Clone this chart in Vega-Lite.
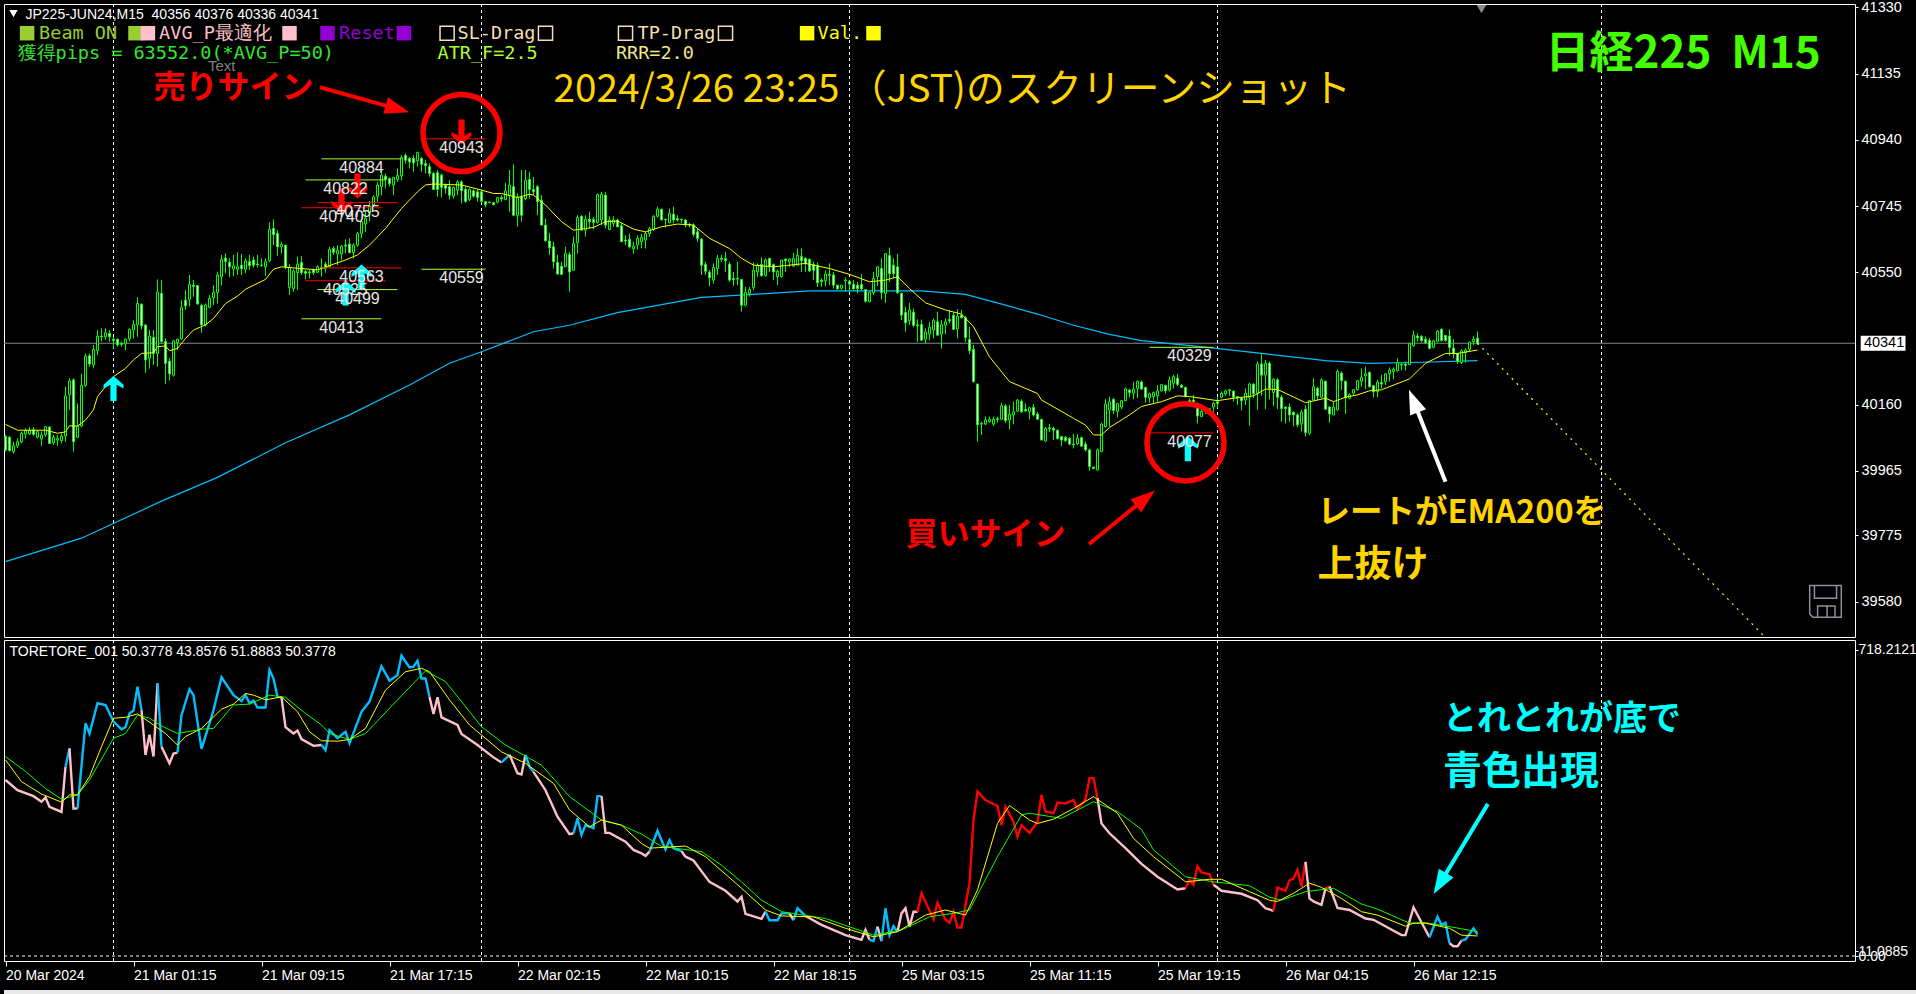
{"$schema":"https://vega.github.io/schema/vega-lite/v6.json","background":"#000000","padding":{"left":0,"top":-2,"right":0,"bottom":0},"spacing":0,"config":{"view":{"stroke":"#ffffff"},"legend":{"disable":true}},
"datasets":{
"candles":[
{"i":0,"o":40066,"h":40071,"l":40022,"c":40027},{"i":1,"o":40064,"h":40068,"l":40022,"c":40025},{"i":2,"o":40022,"h":40051,"l":40015,"c":40039},{"i":3,"o":40039,"h":40061,"l":40032,"c":40051},{"i":4,"o":40051,"h":40081,"l":40046,"c":40076},{"i":5,"o":40074,"h":40091,"l":40061,"c":40084},{"i":6,"o":40074,"h":40094,"l":40071,"c":40084},{"i":7,"o":40086,"h":40094,"l":40068,"c":40073},{"i":8,"o":40064,"h":40084,"l":40061,"c":40081},{"i":9,"o":40059,"h":40081,"l":40039,"c":40071},{"i":10,"o":40071,"h":40097,"l":40066,"c":40095},{"i":11,"o":40094,"h":40097,"l":40044,"c":40046},{"i":12,"o":40048,"h":40071,"l":40042,"c":40064},{"i":13,"o":40056,"h":40071,"l":40039,"c":40061},{"i":14,"o":40054,"h":40076,"l":40046,"c":40068},{"i":15,"o":40068,"h":40213,"l":40051,"c":40186},{"i":16,"o":40189,"h":40238,"l":40145,"c":40230},{"i":17,"o":40233,"h":40238,"l":40022,"c":40051},{"i":18,"o":40064,"h":40164,"l":40061,"c":40097},{"i":19,"o":40097,"h":40251,"l":40094,"c":40217},
{"i":20,"o":40217,"h":40311,"l":40213,"c":40303},{"i":21,"o":40304,"h":40311,"l":40272,"c":40280},{"i":22,"o":40277,"h":40336,"l":40267,"c":40323},{"i":23,"o":40319,"h":40380,"l":40306,"c":40362},{"i":24,"o":40362,"h":40385,"l":40346,"c":40360},{"i":25,"o":40360,"h":40385,"l":40351,"c":40372},{"i":26,"o":40370,"h":40380,"l":40346,"c":40360},{"i":27,"o":40353,"h":40360,"l":40326,"c":40349},{"i":28,"o":40353,"h":40355,"l":40331,"c":40336},{"i":29,"o":40341,"h":40346,"l":40331,"c":40338},{"i":30,"o":40339,"h":40355,"l":40321,"c":40353},{"i":31,"o":40354,"h":40385,"l":40346,"c":40382},{"i":32,"o":40380,"h":40409,"l":40355,"c":40397},{"i":33,"o":40395,"h":40476,"l":40360,"c":40458},{"i":34,"o":40456,"h":40458,"l":40382,"c":40392},{"i":35,"o":40395,"h":40395,"l":40254,"c":40292},{"i":36,"o":40297,"h":40380,"l":40267,"c":40362},{"i":37,"o":40358,"h":40380,"l":40277,"c":40311},{"i":38,"o":40311,"h":40529,"l":40272,"c":40492},{"i":39,"o":40488,"h":40527,"l":40341,"c":40346},
{"i":40,"o":40346,"h":40355,"l":40221,"c":40282},{"i":41,"o":40288,"h":40297,"l":40231,"c":40251},{"i":42,"o":40247,"h":40351,"l":40243,"c":40348},{"i":43,"o":40343,"h":40355,"l":40321,"c":40353},{"i":44,"o":40354,"h":40468,"l":40351,"c":40447},{"i":45,"o":40468,"h":40498,"l":40439,"c":40451},{"i":46,"o":40470,"h":40542,"l":40449,"c":40514},{"i":47,"o":40512,"h":40527,"l":40478,"c":40508},{"i":48,"o":40511,"h":40512,"l":40454,"c":40457},{"i":49,"o":40452,"h":40458,"l":40372,"c":40395},{"i":50,"o":40395,"h":40458,"l":40390,"c":40454},{"i":51,"o":40447,"h":40483,"l":40444,"c":40473},{"i":52,"o":40475,"h":40512,"l":40454,"c":40491},{"i":53,"o":40490,"h":40552,"l":40458,"c":40542},{"i":54,"o":40537,"h":40601,"l":40512,"c":40588},{"i":55,"o":40592,"h":40606,"l":40547,"c":40582},{"i":56,"o":40579,"h":40591,"l":40535,"c":40566},{"i":57,"o":40560,"h":40601,"l":40539,"c":40569},{"i":58,"o":40559,"h":40609,"l":40542,"c":40566},{"i":59,"o":40571,"h":40604,"l":40542,"c":40561},
{"i":60,"o":40559,"h":40591,"l":40547,"c":40584},{"i":61,"o":40581,"h":40601,"l":40557,"c":40570},{"i":62,"o":40586,"h":40596,"l":40564,"c":40571},{"i":63,"o":40574,"h":40601,"l":40564,"c":40572},{"i":64,"o":40571,"h":40591,"l":40566,"c":40570},{"i":65,"o":40566,"h":40591,"l":40539,"c":40581},{"i":66,"o":40584,"h":40697,"l":40580,"c":40676},{"i":67,"o":40679,"h":40706,"l":40630,"c":40661},{"i":68,"o":40664,"h":40674,"l":40598,"c":40625},{"i":69,"o":40625,"h":40640,"l":40606,"c":40632},{"i":70,"o":40630,"h":40630,"l":40559,"c":40566},{"i":71,"o":40505,"h":40574,"l":40483,"c":40564},{"i":72,"o":40502,"h":40559,"l":40493,"c":40554},{"i":73,"o":40549,"h":40596,"l":40498,"c":40574},{"i":74,"o":40579,"h":40598,"l":40542,"c":40549},{"i":75,"o":40552,"h":40557,"l":40529,"c":40547},{"i":76,"o":40551,"h":40557,"l":40532,"c":40549},{"i":77,"o":40557,"h":40561,"l":40542,"c":40549},{"i":78,"o":40550,"h":40571,"l":40547,"c":40566},{"i":79,"o":40564,"h":40591,"l":40537,"c":40561},
{"i":80,"o":40574,"h":40581,"l":40549,"c":40561},{"i":81,"o":40566,"h":40625,"l":40564,"c":40617},{"i":82,"o":40620,"h":40627,"l":40601,"c":40609},{"i":83,"o":40604,"h":40630,"l":40571,"c":40615},{"i":84,"o":40604,"h":40630,"l":40586,"c":40627},{"i":85,"o":40630,"h":40647,"l":40606,"c":40627},{"i":86,"o":40633,"h":40650,"l":40606,"c":40608},{"i":87,"o":40608,"h":40635,"l":40591,"c":40630},{"i":88,"o":40630,"h":40669,"l":40625,"c":40664},{"i":89,"o":40664,"h":40709,"l":40650,"c":40699},{"i":90,"o":40692,"h":40733,"l":40669,"c":40709},{"i":91,"o":40725,"h":40760,"l":40700,"c":40745},{"i":92,"o":40748,"h":40777,"l":40743,"c":40772},{"i":93,"o":40774,"h":40816,"l":40758,"c":40807},{"i":94,"o":40802,"h":40846,"l":40777,"c":40836},{"i":95,"o":40833,"h":40841,"l":40797,"c":40823},{"i":96,"o":40826,"h":40829,"l":40802,"c":40811},{"i":97,"o":40807,"h":40831,"l":40777,"c":40829},{"i":98,"o":40823,"h":40856,"l":40816,"c":40835},{"i":99,"o":40834,"h":40895,"l":40821,"c":40888},
{"i":100,"o":40894,"h":40900,"l":40870,"c":40880},{"i":101,"o":40885,"h":40890,"l":40856,"c":40875},{"i":102,"o":40885,"h":40895,"l":40846,"c":40872},{"i":103,"o":40878,"h":40905,"l":40861,"c":40903},{"i":104,"o":40885,"h":40890,"l":40846,"c":40868},{"i":105,"o":40870,"h":40880,"l":40841,"c":40864},{"i":106,"o":40861,"h":40870,"l":40831,"c":40841},{"i":107,"o":40841,"h":40846,"l":40792,"c":40794},{"i":108,"o":40843,"h":40851,"l":40772,"c":40794},{"i":109,"o":40836,"h":40841,"l":40770,"c":40800},{"i":110,"o":40807,"h":40811,"l":40782,"c":40797},{"i":111,"o":40802,"h":40821,"l":40764,"c":40777},{"i":112,"o":40774,"h":40802,"l":40767,"c":40800},{"i":113,"o":40792,"h":40821,"l":40777,"c":40816},{"i":114,"o":40816,"h":40821,"l":40753,"c":40790},{"i":115,"o":40794,"h":40802,"l":40755,"c":40759},{"i":116,"o":40764,"h":40797,"l":40760,"c":40794},{"i":117,"o":40790,"h":40794,"l":40770,"c":40774},{"i":118,"o":40787,"h":40794,"l":40758,"c":40770},{"i":119,"o":40787,"h":40792,"l":40753,"c":40759},
{"i":120,"o":40758,"h":40759,"l":40741,"c":40749},{"i":121,"o":40757,"h":40757,"l":40753,"c":40755},{"i":122,"o":40755,"h":40755,"l":40747,"c":40749},{"i":123,"o":40756,"h":40772,"l":40753,"c":40770},{"i":124,"o":40770,"h":40777,"l":40758,"c":40766},{"i":125,"o":40764,"h":40813,"l":40762,"c":40790},{"i":126,"o":40777,"h":40851,"l":40728,"c":40807},{"i":127,"o":40802,"h":40868,"l":40715,"c":40718},{"i":128,"o":40717,"h":40782,"l":40684,"c":40772},{"i":129,"o":40772,"h":40851,"l":40699,"c":40718},{"i":130,"o":40767,"h":40851,"l":40762,"c":40821},{"i":131,"o":40823,"h":40846,"l":40767,"c":40794},{"i":132,"o":40794,"h":40831,"l":40777,"c":40787},{"i":133,"o":40802,"h":40807,"l":40718,"c":40758},{"i":134,"o":40762,"h":40777,"l":40689,"c":40689},{"i":135,"o":40689,"h":40708,"l":40640,"c":40643},{"i":136,"o":40642,"h":40666,"l":40601,"c":40622},{"i":137,"o":40625,"h":40640,"l":40561,"c":40581},{"i":138,"o":40579,"h":40601,"l":40542,"c":40545},{"i":139,"o":40568,"h":40581,"l":40542,"c":40544},
{"i":140,"o":40566,"h":40625,"l":40566,"c":40605},{"i":141,"o":40602,"h":40610,"l":40493,"c":40551},{"i":142,"o":40556,"h":40655,"l":40554,"c":40635},{"i":143,"o":40637,"h":40718,"l":40605,"c":40711},{"i":144,"o":40715,"h":40718,"l":40674,"c":40674},{"i":145,"o":40674,"h":40718,"l":40655,"c":40706},{"i":146,"o":40706,"h":40728,"l":40679,"c":40699},{"i":147,"o":40706,"h":40713,"l":40676,"c":40697},{"i":148,"o":40696,"h":40782,"l":40694,"c":40779},{"i":149,"o":40704,"h":40787,"l":40689,"c":40780},{"i":150,"o":40777,"h":40787,"l":40679,"c":40689},{"i":151,"o":40676,"h":40715,"l":40674,"c":40704},{"i":152,"o":40694,"h":40715,"l":40684,"c":40704},{"i":153,"o":40704,"h":40708,"l":40682,"c":40684},{"i":154,"o":40687,"h":40694,"l":40640,"c":40640},{"i":155,"o":40645,"h":40659,"l":40630,"c":40642},{"i":156,"o":40647,"h":40664,"l":40620,"c":40625},{"i":157,"o":40619,"h":40640,"l":40604,"c":40627},{"i":158,"o":40630,"h":40659,"l":40617,"c":40650},{"i":159,"o":40640,"h":40664,"l":40620,"c":40653},
{"i":160,"o":40645,"h":40669,"l":40620,"c":40664},{"i":161,"o":40664,"h":40684,"l":40655,"c":40679},{"i":162,"o":40676,"h":40718,"l":40672,"c":40715},{"i":163,"o":40715,"h":40743,"l":40711,"c":40736},{"i":164,"o":40735,"h":40738,"l":40704,"c":40704},{"i":165,"o":40706,"h":40708,"l":40682,"c":40704},{"i":166,"o":40696,"h":40738,"l":40694,"c":40723},{"i":167,"o":40721,"h":40743,"l":40694,"c":40704},{"i":168,"o":40708,"h":40718,"l":40699,"c":40704},{"i":169,"o":40706,"h":40708,"l":40694,"c":40704},{"i":170,"o":40704,"h":40706,"l":40682,"c":40689},{"i":171,"o":40692,"h":40694,"l":40682,"c":40689},{"i":172,"o":40689,"h":40694,"l":40655,"c":40662},{"i":173,"o":40669,"h":40679,"l":40640,"c":40650},{"i":174,"o":40648,"h":40650,"l":40542,"c":40571},{"i":175,"o":40573,"h":40581,"l":40542,"c":40553},{"i":176,"o":40550,"h":40556,"l":40509,"c":40534},{"i":177,"o":40527,"h":40576,"l":40517,"c":40564},{"i":178,"o":40561,"h":40601,"l":40542,"c":40591},{"i":179,"o":40591,"h":40601,"l":40581,"c":40588},
{"i":180,"o":40591,"h":40610,"l":40551,"c":40584},{"i":181,"o":40574,"h":40581,"l":40522,"c":40527},{"i":182,"o":40532,"h":40551,"l":40510,"c":40529},{"i":183,"o":40532,"h":40581,"l":40512,"c":40530},{"i":184,"o":40529,"h":40529,"l":40434,"c":40453},{"i":185,"o":40453,"h":40507,"l":40450,"c":40491},{"i":186,"o":40488,"h":40507,"l":40478,"c":40499},{"i":187,"o":40505,"h":40579,"l":40497,"c":40556},{"i":188,"o":40551,"h":40576,"l":40537,"c":40571},{"i":189,"o":40573,"h":40594,"l":40537,"c":40540},{"i":190,"o":40540,"h":40591,"l":40537,"c":40586},{"i":191,"o":40591,"h":40591,"l":40551,"c":40566},{"i":192,"o":40573,"h":40576,"l":40527,"c":40551},{"i":193,"o":40537,"h":40558,"l":40512,"c":40553},{"i":194,"o":40537,"h":40586,"l":40534,"c":40586},{"i":195,"o":40589,"h":40591,"l":40551,"c":40584},{"i":196,"o":40581,"h":40591,"l":40566,"c":40589},{"i":197,"o":40568,"h":40607,"l":40566,"c":40591},{"i":198,"o":40571,"h":40620,"l":40571,"c":40600},{"i":199,"o":40596,"h":40620,"l":40551,"c":40584},
{"i":200,"o":40591,"h":40594,"l":40551,"c":40576},{"i":201,"o":40588,"h":40591,"l":40551,"c":40554},{"i":202,"o":40573,"h":40581,"l":40527,"c":40556},{"i":203,"o":40571,"h":40579,"l":40507,"c":40519},{"i":204,"o":40527,"h":40532,"l":40507,"c":40523},{"i":205,"o":40525,"h":40556,"l":40509,"c":40545},{"i":206,"o":40544,"h":40576,"l":40512,"c":40541},{"i":207,"o":40542,"h":40551,"l":40502,"c":40512},{"i":208,"o":40512,"h":40512,"l":40499,"c":40501},{"i":209,"o":40503,"h":40512,"l":40499,"c":40512},{"i":210,"o":40527,"h":40535,"l":40493,"c":40525},{"i":211,"o":40523,"h":40525,"l":40493,"c":40515},{"i":212,"o":40514,"h":40527,"l":40499,"c":40501},{"i":213,"o":40512,"h":40522,"l":40488,"c":40502},{"i":214,"o":40514,"h":40545,"l":40497,"c":40501},{"i":215,"o":40499,"h":40499,"l":40460,"c":40465},{"i":216,"o":40463,"h":40493,"l":40463,"c":40491},{"i":217,"o":40490,"h":40551,"l":40483,"c":40532},{"i":218,"o":40537,"h":40568,"l":40509,"c":40566},{"i":219,"o":40561,"h":40591,"l":40470,"c":40490},
{"i":220,"o":40488,"h":40605,"l":40460,"c":40605},{"i":221,"o":40599,"h":40623,"l":40522,"c":40546},{"i":222,"o":40571,"h":40591,"l":40532,"c":40546},{"i":223,"o":40566,"h":40605,"l":40486,"c":40490},{"i":224,"o":40488,"h":40488,"l":40409,"c":40424},{"i":225,"o":40432,"h":40448,"l":40375,"c":40401},{"i":226,"o":40407,"h":40460,"l":40394,"c":40439},{"i":227,"o":40432,"h":40443,"l":40388,"c":40394},{"i":228,"o":40395,"h":40411,"l":40345,"c":40392},{"i":229,"o":40396,"h":40411,"l":40348,"c":40350},{"i":230,"o":40353,"h":40385,"l":40340,"c":40374},{"i":231,"o":40368,"h":40404,"l":40350,"c":40388},{"i":232,"o":40380,"h":40414,"l":40355,"c":40409},{"i":233,"o":40404,"h":40434,"l":40362,"c":40365},{"i":234,"o":40368,"h":40409,"l":40325,"c":40396},{"i":235,"o":40394,"h":40414,"l":40368,"c":40404},{"i":236,"o":40411,"h":40439,"l":40399,"c":40407},{"i":237,"o":40423,"h":40431,"l":40380,"c":40382},{"i":238,"o":40383,"h":40441,"l":40355,"c":40421},{"i":239,"o":40424,"h":40439,"l":40414,"c":40416},
{"i":240,"o":40416,"h":40421,"l":40345,"c":40358},{"i":241,"o":40352,"h":40390,"l":40309,"c":40319},{"i":242,"o":40323,"h":40336,"l":40225,"c":40228},{"i":243,"o":40221,"h":40221,"l":40051,"c":40101},{"i":244,"o":40105,"h":40110,"l":40071,"c":40103},{"i":245,"o":40103,"h":40125,"l":40100,"c":40115},{"i":246,"o":40110,"h":40125,"l":40107,"c":40117},{"i":247,"o":40103,"h":40125,"l":40097,"c":40117},{"i":248,"o":40119,"h":40125,"l":40107,"c":40117},{"i":249,"o":40117,"h":40166,"l":40117,"c":40157},{"i":250,"o":40156,"h":40162,"l":40107,"c":40113},{"i":251,"o":40115,"h":40159,"l":40087,"c":40132},{"i":252,"o":40130,"h":40169,"l":40103,"c":40139},{"i":253,"o":40141,"h":40176,"l":40139,"c":40174},{"i":254,"o":40170,"h":40176,"l":40136,"c":40139},{"i":255,"o":40146,"h":40164,"l":40139,"c":40142},{"i":256,"o":40140,"h":40154,"l":40117,"c":40151},{"i":257,"o":40152,"h":40162,"l":40125,"c":40130},{"i":258,"o":40132,"h":40139,"l":40117,"c":40117},{"i":259,"o":40117,"h":40117,"l":40056,"c":40056},
{"i":260,"o":40053,"h":40095,"l":40051,"c":40090},{"i":261,"o":40092,"h":40103,"l":40080,"c":40089},{"i":262,"o":40090,"h":40095,"l":40056,"c":40085},{"i":263,"o":40085,"h":40087,"l":40058,"c":40060},{"i":264,"o":40066,"h":40068,"l":40038,"c":40056},{"i":265,"o":40064,"h":40068,"l":40051,"c":40054},{"i":266,"o":40061,"h":40064,"l":40041,"c":40044},{"i":267,"o":40044,"h":40074,"l":40031,"c":40042},{"i":268,"o":40045,"h":40074,"l":40041,"c":40061},{"i":269,"o":40063,"h":40066,"l":40036,"c":40038},{"i":270,"o":40044,"h":40051,"l":40022,"c":40027},{"i":271,"o":40027,"h":40031,"l":39966,"c":39978},{"i":272,"o":39976,"h":39978,"l":39970,"c":39972},{"i":273,"o":39968,"h":40031,"l":39966,"c":40027},{"i":274,"o":40022,"h":40107,"l":40022,"c":40103},{"i":275,"o":40095,"h":40176,"l":40093,"c":40162},{"i":276,"o":40144,"h":40184,"l":40095,"c":40169},{"i":277,"o":40176,"h":40179,"l":40133,"c":40143},{"i":278,"o":40140,"h":40164,"l":40123,"c":40164},{"i":279,"o":40153,"h":40174,"l":40147,"c":40172},
{"i":280,"o":40172,"h":40211,"l":40172,"c":40207},{"i":281,"o":40203,"h":40206,"l":40182,"c":40196},{"i":282,"o":40194,"h":40228,"l":40176,"c":40206},{"i":283,"o":40208,"h":40231,"l":40179,"c":40229},{"i":284,"o":40227,"h":40231,"l":40204,"c":40206},{"i":285,"o":40211,"h":40213,"l":40166,"c":40182},{"i":286,"o":40180,"h":40196,"l":40166,"c":40192},{"i":287,"o":40184,"h":40199,"l":40162,"c":40196},{"i":288,"o":40186,"h":40218,"l":40169,"c":40201},{"i":289,"o":40201,"h":40221,"l":40199,"c":40219},{"i":290,"o":40217,"h":40218,"l":40194,"c":40201},{"i":291,"o":40204,"h":40243,"l":40199,"c":40233},{"i":292,"o":40223,"h":40248,"l":40208,"c":40243},{"i":293,"o":40238,"h":40251,"l":40215,"c":40220},{"i":294,"o":40217,"h":40221,"l":40209,"c":40211},{"i":295,"o":40211,"h":40213,"l":40182,"c":40184},{"i":296,"o":40172,"h":40179,"l":40156,"c":40162},{"i":297,"o":40174,"h":40189,"l":40153,"c":40156},{"i":298,"o":40164,"h":40166,"l":40105,"c":40127},{"i":299,"o":40125,"h":40145,"l":40125,"c":40140},
{"i":300,"o":40145,"h":40147,"l":40133,"c":40143},{"i":301,"o":40145,"h":40150,"l":40137,"c":40148},{"i":302,"o":40153,"h":40169,"l":40125,"c":40164},{"i":303,"o":40169,"h":40182,"l":40150,"c":40164},{"i":304,"o":40182,"h":40199,"l":40179,"c":40194},{"i":305,"o":40192,"h":40204,"l":40186,"c":40201},{"i":306,"o":40202,"h":40206,"l":40186,"c":40204},{"i":307,"o":40200,"h":40202,"l":40169,"c":40182},{"i":308,"o":40184,"h":40186,"l":40159,"c":40180},{"i":309,"o":40180,"h":40182,"l":40143,"c":40172},{"i":310,"o":40174,"h":40208,"l":40159,"c":40194},{"i":311,"o":40182,"h":40225,"l":40098,"c":40221},{"i":312,"o":40221,"h":40223,"l":40179,"c":40192},{"i":313,"o":40194,"h":40287,"l":40145,"c":40280},{"i":314,"o":40280,"h":40311,"l":40186,"c":40247},{"i":315,"o":40247,"h":40292,"l":40147,"c":40282},{"i":316,"o":40282,"h":40287,"l":40176,"c":40208},{"i":317,"o":40196,"h":40238,"l":40156,"c":40235},{"i":318,"o":40233,"h":40238,"l":40147,"c":40182},{"i":319,"o":40182,"h":40189,"l":40110,"c":40149},
{"i":320,"o":40153,"h":40155,"l":40105,"c":40149},{"i":321,"o":40153,"h":40164,"l":40110,"c":40130},{"i":322,"o":40138,"h":40140,"l":40096,"c":40130},{"i":323,"o":40130,"h":40135,"l":40094,"c":40101},{"i":324,"o":40104,"h":40145,"l":40081,"c":40138},{"i":325,"o":40147,"h":40159,"l":40066,"c":40078},{"i":326,"o":40076,"h":40174,"l":40071,"c":40172},{"i":327,"o":40174,"h":40238,"l":40174,"c":40213},{"i":328,"o":40208,"h":40213,"l":40174,"c":40186},{"i":329,"o":40182,"h":40238,"l":40179,"c":40233},{"i":330,"o":40229,"h":40231,"l":40145,"c":40147},{"i":331,"o":40153,"h":40155,"l":40107,"c":40133},{"i":332,"o":40130,"h":40169,"l":40130,"c":40153},{"i":333,"o":40145,"h":40264,"l":40143,"c":40258},{"i":334,"o":40253,"h":40258,"l":40204,"c":40231},{"i":335,"o":40229,"h":40231,"l":40133,"c":40180},{"i":336,"o":40179,"h":40194,"l":40176,"c":40189},{"i":337,"o":40194,"h":40206,"l":40189,"c":40204},{"i":338,"o":40204,"h":40233,"l":40202,"c":40231},{"i":339,"o":40229,"h":40267,"l":40213,"c":40241},
{"i":340,"o":40245,"h":40272,"l":40206,"c":40251},{"i":341,"o":40255,"h":40258,"l":40211,"c":40213},{"i":342,"o":40216,"h":40218,"l":40182,"c":40198},{"i":343,"o":40199,"h":40233,"l":40182,"c":40227},{"i":344,"o":40225,"h":40248,"l":40208,"c":40221},{"i":345,"o":40228,"h":40253,"l":40218,"c":40251},{"i":346,"o":40251,"h":40270,"l":40228,"c":40262},{"i":347,"o":40258,"h":40270,"l":40235,"c":40264},{"i":348,"o":40260,"h":40297,"l":40258,"c":40285},{"i":349,"o":40279,"h":40282,"l":40262,"c":40277},{"i":350,"o":40280,"h":40287,"l":40260,"c":40276},{"i":351,"o":40278,"h":40341,"l":40277,"c":40341},{"i":352,"o":40334,"h":40378,"l":40331,"c":40365},{"i":353,"o":40362,"h":40370,"l":40346,"c":40357},{"i":354,"o":40361,"h":40365,"l":40343,"c":40349},{"i":355,"o":40353,"h":40361,"l":40339,"c":40343},{"i":356,"o":40349,"h":40356,"l":40323,"c":40326},{"i":357,"o":40329,"h":40351,"l":40326,"c":40348},{"i":358,"o":40346,"h":40380,"l":40344,"c":40377},{"i":359,"o":40382,"h":40385,"l":40346,"c":40349},
{"i":360,"o":40364,"h":40365,"l":40346,"c":40349},{"i":361,"o":40362,"h":40382,"l":40304,"c":40329},{"i":362,"o":40327,"h":40353,"l":40297,"c":40310},{"i":363,"o":40311,"h":40313,"l":40280,"c":40287},{"i":364,"o":40284,"h":40323,"l":40280,"c":40319},{"i":365,"o":40313,"h":40326,"l":40284,"c":40321},{"i":366,"o":40323,"h":40346,"l":40316,"c":40344},{"i":367,"o":40346,"h":40362,"l":40336,"c":40353},{"i":368,"o":40356,"h":40376,"l":40336,"c":40341}],
"ema":[{"i":0,"p":40102},{"i":3,"p":40085},{"i":10,"p":40085},{"i":13,"p":40076},{"i":15,"p":40080},{"i":16,"p":40098},{"i":18,"p":40097},{"i":20,"p":40115},{"i":22,"p":40145},{"i":23,"p":40184},{"i":25,"p":40213},{"i":27,"p":40243},{"i":30,"p":40267},{"i":32,"p":40292},{"i":34,"p":40311},{"i":37,"p":40313},{"i":38,"p":40331},{"i":40,"p":40333},{"i":41,"p":40319},{"i":43,"p":40326},{"i":45,"p":40355},{"i":47,"p":40380},{"i":49,"p":40390},{"i":50,"p":40395},{"i":52,"p":40414},{"i":55,"p":40458},{"i":58,"p":40480},{"i":60,"p":40500},{"i":65,"p":40529},{"i":67,"p":40559},{"i":69,"p":40566},{"i":71,"p":40564},{"i":78,"p":40557},{"i":82,"p":40574},{"i":85,"p":40586},{"i":88,"p":40601},{"i":91,"p":40630},{"i":95,"p":40679},{"i":99,"p":40738},{"i":103,"p":40787},{"i":105,"p":40807},{"i":107,"p":40810},{"i":114,"p":40807},{"i":119,"p":40792},{"i":122,"p":40782},{"i":124,"p":40782},{"i":128,"p":40770},{"i":131,"p":40780},{"i":132,"p":40777},{"i":135,"p":40748},{"i":139,"p":40699},{"i":142,"p":40674},{"i":145,"p":40679},{"i":147,"p":40682},{"i":150,"p":40699},{"i":153,"p":40701},{"i":157,"p":40677},{"i":160,"p":40669},{"i":164,"p":40684},{"i":168,"p":40692},{"i":172,"p":40689},{"i":176,"p":40650},{"i":181,"p":40620},{"i":184,"p":40591},{"i":187,"p":40571},{"i":192,"p":40566},{"i":200,"p":40576},{"i":206,"p":40561},{"i":211,"p":40544},{"i":216,"p":40522},{"i":220,"p":40527},{"i":223,"p":40537},{"i":226,"p":40502},{"i":230,"p":40460},{"i":235,"p":40439},{"i":239,"p":40427},{"i":242,"p":40390},{"i":246,"p":40301},{"i":251,"p":40228},{"i":258,"p":40193},{"i":259,"p":40174},{"i":267,"p":40120},{"i":270,"p":40100},{"i":272,"p":40071},{"i":274,"p":40071},{"i":276,"p":40093},{"i":281,"p":40130},{"i":284,"p":40155},{"i":289,"p":40169},{"i":293,"p":40186},{"i":296,"p":40184},{"i":303,"p":40172},{"i":307,"p":40179},{"i":312,"p":40186},{"i":315,"p":40206},{"i":318,"p":40205},{"i":325,"p":40166},{"i":330,"p":40179},{"i":332,"p":40169},{"i":335,"p":40182},{"i":338,"p":40189},{"i":341,"p":40201},{"i":344,"p":40204},{"i":351,"p":40236},{"i":355,"p":40282},{"i":360,"p":40311},{"i":363,"p":40311},{"i":368,"p":40321}],
"ema200":[{"i":0,"p":39698},{"i":19,"p":39767},{"i":39,"p":39876},{"i":53,"p":39946},{"i":70,"p":40048},{"i":86,"p":40130},{"i":101,"p":40218},{"i":111,"p":40282},{"i":119,"p":40316},{"i":132,"p":40375},{"i":141,"p":40394},{"i":153,"p":40431},{"i":174,"p":40476},{"i":187,"p":40485},{"i":201,"p":40495},{"i":229,"p":40495},{"i":240,"p":40485},{"i":247,"p":40463},{"i":258,"p":40427},{"i":267,"p":40394},{"i":276,"p":40367},{"i":284,"p":40349},{"i":301,"p":40328},{"i":314,"p":40311},{"i":330,"p":40290},{"i":341,"p":40282},{"i":354,"p":40285},{"i":368,"p":40290}],
"sessions":[{"i":27},{"i":119},{"i":211},{"i":303},{"i":399}],
"levels":[{"i1":79,"i2":99,"mid":89,"lv":40884,"kind":"target"},{"i1":75,"i2":95,"mid":85,"lv":40822,"kind":"target"},{"i1":78,"i2":98,"mid":88,"lv":40755,"kind":"entry"},{"i1":74,"i2":94,"mid":84,"lv":40740,"kind":"entry"},{"i1":104,"i2":120,"mid":114,"lv":40943,"kind":"entry"},{"i1":104,"i2":120,"mid":114,"lv":40559,"kind":"target"},{"i1":79,"i2":99,"mid":89,"lv":40563,"kind":"entry"},{"i1":75,"i2":95,"mid":85,"lv":40525,"kind":"entry"},{"i1":78,"i2":98,"mid":88,"lv":40499,"kind":"target"},{"i1":74,"i2":94,"mid":84,"lv":40413,"kind":"target"},{"i1":286,"i2":302,"mid":296,"lv":40329,"kind":"target"},{"i1":286,"i2":302,"mid":296,"lv":40077,"kind":"entry"}],
"badges":[{"role":"beam","i":5.4},{"role":"beam","i":32.5},{"role":"avg","i":35.6},{"role":"avg","i":71},{"role":"reset","i":80.5},{"role":"reset","i":99.6},{"role":"val","i":200.4},{"role":"val","i":217}]
},
"vconcat":[
{"width":1851,"height":633,"resolve":{"scale":{"color":"independent"}},"layer":[
{"data":{"name":"sessions"},"mark":{"type":"rule","color":"#ffffff","strokeDash":[3,3]},"encoding":{"x":{"field":"i","type":"quantitative","scale":{"domain":[-0.375,462.375],"nice":false,"zero":false,"padding":0},"axis":null}}},
{"data":{"values":[{"bid":40341}]},"mark":{"type":"rule","color":"#7f8a94"},"encoding":{"y":{"field":"bid","type":"quantitative","scale":{"domain":[39476,41340],"nice":false,"zero":false},"axis":{"title":null,"orient":"right","values":[41330,41135,40940,40745,40550,40160,39965,39775,39580],"format":"d","grid":false,"domain":false,"ticks":true,"tickSize":3,"tickColor":"#ffffff","labelColor":"#ffffff","labelFont":"Liberation Sans","labelFontSize":14.5,"labelPadding":3,"labelOverlap":false,"labelBound":false,"labelFlush":false}}}},
{"data":{"name":"ema200"},"mark":{"type":"line","color":"#00BFFF","strokeWidth":1.2},"encoding":{"x":{"field":"i","type":"quantitative","axis":null},"y":{"field":"p","type":"quantitative"}}},
{"data":{"name":"candles"},"mark":{"type":"rule","color":"#00FF00","strokeWidth":1},"encoding":{"x":{"field":"i","type":"quantitative","axis":null},"y":{"field":"l","type":"quantitative"},"y2":{"field":"h"}}},
{"data":{"name":"candles"},"mark":{"type":"bar","orient":"vertical","size":2,"stroke":"#00FF00","strokeWidth":1},"encoding":{"x":{"field":"i","type":"quantitative","axis":null},"y":{"field":"o","type":"quantitative"},"y2":{"field":"c"},"fill":{"condition":{"test":"datum.c<datum.o","value":"#ffffff"},"value":"#000000"}}},
{"data":{"name":"ema"},"mark":{"type":"line","color":"#FFFF00","strokeWidth":1},"encoding":{"x":{"field":"i","type":"quantitative","axis":null},"y":{"field":"p","type":"quantitative"}}},
{"data":{"values":[{"i":368,"p":40341},{"i":439.6,"p":39479}]},"mark":{"type":"line","color":"#FFFF00","strokeWidth":1.2,"strokeDash":[2,5]},"encoding":{"x":{"field":"i","type":"quantitative","axis":null},"y":{"field":"p","type":"quantitative"}}},
{"data":{"name":"levels"},"mark":{"type":"rule","strokeWidth":1},"encoding":{"x":{"field":"i1","type":"quantitative","axis":null},"x2":{"field":"i2"},"y":{"field":"lv","type":"quantitative"},"color":{"field":"kind","type":"nominal","scale":{"domain":["target","entry"],"range":["#ADFF2F","#FF0000"]}}}},
{"data":{"values":[{"i":27,"p":40208},{"i":89,"p":40536},{"i":85,"p":40489},{"i":295.6,"p":40030}]},"mark":{"type":"point","shape":"M0,-1 L0.8,-0.3 L0.8,0 L0.25,-0.3 L0.25,1 L-0.25,1 L-0.25,-0.3 L-0.8,0 L-0.8,-0.3 Z","filled":true,"color":"#00FFFF","opacity":1,"size":625},"encoding":{"x":{"field":"i","type":"quantitative","axis":null},"y":{"field":"p","type":"quantitative"}}},
{"data":{"values":[{"i":114,"p":40963},{"i":88,"p":40804},{"i":84,"p":40760}]},"mark":{"type":"point","shape":"M0,1 L0.8,0.3 L0.8,0 L0.25,0.3 L0.25,-1 L-0.25,-1 L-0.25,0.3 L-0.8,0 L-0.8,0.3 Z","filled":true,"color":"#FF0000","opacity":1,"size":625},"encoding":{"x":{"field":"i","type":"quantitative","axis":null},"y":{"field":"p","type":"quantitative"}}},
{"data":{"name":"levels"},"mark":{"type":"text","font":"Liberation Sans","fontSize":16,"color":"#e6e6e6","dy":9},"encoding":{"x":{"field":"mid","type":"quantitative","axis":null},"y":{"field":"lv","type":"quantitative"},"text":{"field":"lv","type":"nominal"}}},
{"data":{"values":[{"i":114,"p":40960},{"i":295,"p":40049}]},"mark":{"type":"point","shape":"circle","filled":false,"color":"#FF0000","strokeWidth":5.5,"opacity":1,"size":5945},"encoding":{"x":{"field":"i","type":"quantitative","axis":null},"y":{"field":"p","type":"quantitative"}}},
{"data":{"values":[{"i":78.6,"p":41095},{"i":98,"p":41031}]},"mark":{"type":"line","color":"#FF0000","strokeWidth":4},"encoding":{"x":{"field":"i","type":"quantitative","axis":null},"y":{"field":"p","type":"quantitative"}}},
{"data":{"values":[{"i":98,"p":41031}]},"mark":{"type":"point","shape":"M0,-1 L0.7,1 L-0.7,1 Z","filled":true,"color":"#FF0000","opacity":1,"size":600,"angle":106},"encoding":{"x":{"field":"i","type":"quantitative","axis":null},"y":{"field":"p","type":"quantitative"}}},
{"data":{"values":[{"i":270.9,"p":39750},{"i":285,"p":39885}]},"mark":{"type":"line","color":"#FF0000","strokeWidth":4},"encoding":{"x":{"field":"i","type":"quantitative","axis":null},"y":{"field":"p","type":"quantitative"}}},
{"data":{"values":[{"i":285,"p":39885}]},"mark":{"type":"point","shape":"M0,-1 L0.7,1 L-0.7,1 Z","filled":true,"color":"#FF0000","opacity":1,"size":600,"angle":51},"encoding":{"x":{"field":"i","type":"quantitative","axis":null},"y":{"field":"p","type":"quantitative"}}},
{"data":{"values":[{"i":360,"p":39933},{"i":352,"p":40171}]},"mark":{"type":"line","color":"#FFFFFF","strokeWidth":4},"encoding":{"x":{"field":"i","type":"quantitative","axis":null},"y":{"field":"p","type":"quantitative"}}},
{"data":{"values":[{"i":352,"p":40171}]},"mark":{"type":"point","shape":"M0,-1 L0.7,1 L-0.7,1 Z","filled":true,"color":"#FFFFFF","opacity":1,"size":600,"angle":-22},"encoding":{"x":{"field":"i","type":"quantitative","axis":null},"y":{"field":"p","type":"quantitative"}}},
{"data":{"values":[{"i":137,"p":41087,"t":"2024/3/26 23:25 （JST)のスクリーンショット"}]},"mark":{"type":"text","font":"Noto Sans CJK JP","fontSize":38.7,"color":"#FFD400","align":"left","baseline":"middle"},"encoding":{"x":{"field":"i","type":"quantitative","axis":null},"y":{"field":"p","type":"quantitative"},"text":{"field":"t"}}},
{"data":{"values":[{"i":37,"p":41092,"t":"売りサイン"},{"i":225,"p":39776,"t":"買いサイン"}]},"mark":{"type":"text","font":"Noto Sans CJK JP","fontWeight":"bold","fontSize":32,"color":"#FF0000","align":"left","baseline":"middle"},"encoding":{"x":{"field":"i","type":"quantitative","axis":null},"y":{"field":"p","type":"quantitative"},"text":{"field":"t"}}},
{"data":{"values":[{"i":385,"p":41190,"t":"日経225\u00a0\u00a0M15"}]},"mark":{"type":"text","font":"Noto Sans CJK JP","fontWeight":"bold","fontSize":44,"color":"#44FF00","align":"left","baseline":"middle"},"encoding":{"x":{"field":"i","type":"quantitative","axis":null},"y":{"field":"p","type":"quantitative"},"text":{"field":"t"}}},
{"data":{"values":[{"i":328,"p":39840,"t":"レートがEMA200を"}]},"mark":{"type":"text","font":"Noto Sans CJK JP","fontWeight":"bold","fontSize":32.5,"color":"#FFD400","align":"left","baseline":"middle"},"encoding":{"x":{"field":"i","type":"quantitative","axis":null},"y":{"field":"p","type":"quantitative"},"text":{"field":"t"}}},
{"data":{"values":[{"i":328,"p":39685,"t":"上抜け"}]},"mark":{"type":"text","font":"Noto Sans CJK JP","fontWeight":"bold","fontSize":37,"color":"#FFD400","align":"left","baseline":"middle"},"encoding":{"x":{"field":"i","type":"quantitative","axis":null},"y":{"field":"p","type":"quantitative"},"text":{"field":"t"}}},
{"data":{"values":[{"i":5,"p":41307,"t":"JP225-JUN24,M15\u00a0\u00a040356 40376 40336 40341"}]},"mark":{"type":"text","font":"Liberation Sans","fontSize":14,"color":"#ffffff","align":"left","baseline":"middle"},"encoding":{"x":{"field":"i","type":"quantitative","axis":null},"y":{"field":"p","type":"quantitative"},"text":{"field":"t"}}},
{"data":{"values":[{"i":2,"p":41312}]},"mark":{"type":"point","shape":"triangle-down","filled":true,"color":"#ffffff","opacity":1,"size":70},"encoding":{"x":{"field":"i","type":"quantitative","axis":null},"y":{"field":"p","type":"quantitative"}}},
{"data":{"values":[{"i":369,"p":41325}]},"mark":{"type":"point","shape":"triangle-down","filled":true,"color":"#8a8a8a","opacity":1,"size":90},"encoding":{"x":{"field":"i","type":"quantitative","axis":null},"y":{"field":"p","type":"quantitative"}}},
{"data":{"values":[{"i":50.6,"p":41157,"t":"Text"}]},"mark":{"type":"text","font":"Liberation Sans","fontSize":15,"color":"#808080","align":"left","baseline":"middle"},"encoding":{"x":{"field":"i","type":"quantitative","axis":null},"y":{"field":"p","type":"quantitative"},"text":{"field":"t"}}},
{"data":{"values":[{"i":8.4,"p":41254,"t":"Beam ON","role":"beam"},{"i":38.4,"p":41254,"t":"AVG_P最適化","role":"avg"},{"i":83.4,"p":41254,"t":"Reset","role":"reset"},{"i":113,"p":41254,"t":"SL-Drag","role":"drag"},{"i":158,"p":41254,"t":"TP-Drag","role":"drag"},{"i":203,"p":41254,"t":"Val.","role":"val"},{"i":3,"p":41195,"t":"獲得pips = 63552.0(*AVG_P=50)","role":"pips"},{"i":108,"p":41195,"t":"ATR_F=2.5","role":"atr"},{"i":152.6,"p":41195,"t":"RRR=2.0","role":"rrr"}]},"mark":{"type":"text","font":"DejaVu Sans Mono","fontSize":18.5,"align":"left","baseline":"middle"},"encoding":{"x":{"field":"i","type":"quantitative","axis":null},"y":{"field":"p","type":"quantitative"},"text":{"field":"t"},"color":{"field":"role","type":"nominal","scale":{"domain":["beam","avg","reset","drag","val","pips","atr","rrr"],"range":["#9ACD32","#FFC0CB","#9400D3","#F5DEB3","#FFFF00","#32E632","#ADFF2F","#F0E68C"]}}}},
{"data":{"name":"badges"},"transform":[{"filter":"datum.role=='beam'"}],"mark":{"type":"point","shape":"square","filled":true,"color":"#9ACD32","opacity":1,"size":210},"encoding":{"x":{"field":"i","type":"quantitative","axis":null},"y":{"datum":41254,"type":"quantitative"}}},
{"data":{"name":"badges"},"transform":[{"filter":"datum.role=='avg'"}],"mark":{"type":"point","shape":"square","filled":true,"color":"#FFC0CB","opacity":1,"size":210},"encoding":{"x":{"field":"i","type":"quantitative","axis":null},"y":{"datum":41254,"type":"quantitative"}}},
{"data":{"name":"badges"},"transform":[{"filter":"datum.role=='reset'"}],"mark":{"type":"point","shape":"square","filled":true,"color":"#9400D3","opacity":1,"size":210},"encoding":{"x":{"field":"i","type":"quantitative","axis":null},"y":{"datum":41254,"type":"quantitative"}}},
{"data":{"name":"badges"},"transform":[{"filter":"datum.role=='val'"}],"mark":{"type":"point","shape":"square","filled":true,"color":"#FFFF00","opacity":1,"size":210},"encoding":{"x":{"field":"i","type":"quantitative","axis":null},"y":{"datum":41254,"type":"quantitative"}}},
{"data":{"values":[{"i":110.4},{"i":135},{"i":155},{"i":180}]},"mark":{"type":"point","shape":"square","filled":false,"color":"#F5DEB3","strokeWidth":1.5,"opacity":1,"size":200},"encoding":{"x":{"field":"i","type":"quantitative","axis":null},"y":{"datum":41254,"type":"quantitative"}}},
{"data":{"values":[{"i":455,"p":39581}]},"mark":{"type":"point","shape":"M-1,-1 L1,-1 L1,1 L-0.8,1 L-1,0.8 Z M-0.7,-1 L-0.7,-0.2 L0.7,-0.2 L0.7,-1 M-0.5,1 L-0.5,0.3 L0.6,0.3 L0.6,1 M0.1,1 L0.1,0.3","filled":false,"color":"#8a9299","strokeWidth":1.5,"opacity":1,"size":1000},"encoding":{"x":{"field":"i","type":"quantitative","axis":null},"y":{"field":"p","type":"quantitative"}}},
{"data":{"values":[{"i1":463.8,"i2":475,"lo":40319,"hi":40363}]},"mark":{"type":"rect","color":"#ffffff"},"encoding":{"x":{"field":"i1","type":"quantitative","axis":null},"x2":{"field":"i2"},"y":{"field":"lo","type":"quantitative"},"y2":{"field":"hi"}}},
{"data":{"values":[{"i":464.6,"p":40341,"t":"40341"}]},"mark":{"type":"text","font":"Liberation Sans","fontSize":14.5,"color":"#000000","align":"left","baseline":"middle"},"encoding":{"x":{"field":"i","type":"quantitative","axis":null},"y":{"field":"p","type":"quantitative"},"text":{"field":"t"}}}
]},
{"width":1851,"height":321,"resolve":{"scale":{"color":"independent"}},"layer":[
{"data":{"name":"sessions"},"mark":{"type":"rule","color":"#ffffff","strokeDash":[3,3]},"encoding":{"x":{"field":"i","type":"quantitative","scale":{"domain":[-0.375,462.375],"nice":false,"zero":false,"padding":0},"axis":{"title":null,"values":[0,32,64,96,128,160,192,224,256,288,320,352],"labelExpr":"['20 Mar 2024','21 Mar 01:15','21 Mar 09:15','21 Mar 17:15','22 Mar 02:15','22 Mar 10:15','22 Mar 18:15','25 Mar 03:15','25 Mar 11:15','25 Mar 19:15','26 Mar 04:15','26 Mar 12:15'][datum.value/32]","grid":false,"domain":false,"tickSize":5,"tickColor":"#ffffff","labelColor":"#ffffff","labelFont":"Liberation Sans","labelFontSize":14,"labelAlign":"left","labelPadding":2,"labelOverlap":false,"labelBound":false,"labelFlush":false,"minExtent":27,"maxExtent":27}}}},
{"data":{"values":[{"z":0}]},"mark":{"type":"rule","color":"#ffffff","strokeDash":[3,3]},"encoding":{"y":{"field":"z","type":"quantitative","scale":{"domain":[-11.7,741.4],"nice":false,"zero":false},"axis":{"title":null,"orient":"right","values":[718.2121,11.0885,0],"labelExpr":"datum.value==0?'0.00':format(datum.value,'.4f')","grid":false,"domain":false,"tickSize":3,"tickColor":"#ffffff","labelColor":"#ffffff","labelFont":"Liberation Sans","labelFontSize":14,"labelPadding":0,"labelOverlap":false,"labelBound":false,"labelFlush":false}}}},
{"data":{"values":[
{"i":0,"v":413,"state":"pink","run":1},{"i":3,"v":389,"state":"pink","run":1},{"i":7,"v":375,"state":"pink","run":1},{"i":9,"v":362,"state":"pink","run":1},{"i":10,"v":372,"state":"pink","run":1},{"i":11,"v":350,"state":"pink","run":1},{"i":14,"v":338,"state":"pink","run":1},{"i":15,"v":444,"state":"pink","run":1},
{"i":15,"v":444,"state":"blue","run":2},{"i":16,"v":487,"state":"blue","run":2},
{"i":16,"v":487,"state":"pink","run":3},{"i":17,"v":346,"state":"pink","run":3},{"i":18,"v":346,"state":"pink","run":3},
{"i":18,"v":346,"state":"blue","run":4},{"i":20,"v":546,"state":"blue","run":4},{"i":21,"v":522,"state":"blue","run":4},{"i":23,"v":593,"state":"blue","run":4},{"i":25,"v":589,"state":"blue","run":4},{"i":27,"v":550,"state":"blue","run":4},{"i":29,"v":532,"state":"blue","run":4},{"i":30,"v":537,"state":"blue","run":4},{"i":31,"v":569,"state":"blue","run":4},{"i":32,"v":576,"state":"blue","run":4},{"i":33,"v":632,"state":"blue","run":4},{"i":34,"v":577,"state":"blue","run":4},
{"i":34,"v":577,"state":"pink","run":5},{"i":35,"v":472,"state":"pink","run":5},{"i":36,"v":519,"state":"pink","run":5},{"i":37,"v":468,"state":"pink","run":5},{"i":38,"v":640,"state":"pink","run":5},
{"i":38,"v":640,"state":"blue","run":6},{"i":39,"v":491,"state":"blue","run":6},
{"i":39,"v":491,"state":"pink","run":7},{"i":41,"v":452,"state":"pink","run":7},{"i":42,"v":475,"state":"pink","run":7},{"i":43,"v":477,"state":"pink","run":7},
{"i":43,"v":477,"state":"blue","run":8},{"i":44,"v":565,"state":"blue","run":8},{"i":46,"v":626,"state":"blue","run":8},{"i":47,"v":612,"state":"blue","run":8},{"i":49,"v":486,"state":"blue","run":8},{"i":51,"v":546,"state":"blue","run":8},{"i":52,"v":577,"state":"blue","run":8},{"i":54,"v":654,"state":"blue","run":8},{"i":57,"v":612,"state":"blue","run":8},{"i":59,"v":598,"state":"blue","run":8},{"i":60,"v":612,"state":"blue","run":8},{"i":61,"v":593,"state":"blue","run":8},{"i":62,"v":599,"state":"blue","run":8},{"i":63,"v":583,"state":"blue","run":8},{"i":65,"v":583,"state":"blue","run":8},{"i":66,"v":671,"state":"blue","run":8},{"i":67,"v":651,"state":"blue","run":8},{"i":68,"v":608,"state":"blue","run":8},{"i":69,"v":607,"state":"blue","run":8},
{"i":69,"v":607,"state":"pink","run":9},{"i":70,"v":537,"state":"pink","run":9},{"i":72,"v":522,"state":"pink","run":9},{"i":73,"v":529,"state":"pink","run":9},{"i":74,"v":509,"state":"pink","run":9},{"i":77,"v":493,"state":"pink","run":9},{"i":79,"v":495,"state":"pink","run":9},
{"i":79,"v":495,"state":"blue","run":10},{"i":80,"v":483,"state":"blue","run":10},{"i":81,"v":530,"state":"blue","run":10},{"i":83,"v":511,"state":"blue","run":10},{"i":85,"v":526,"state":"blue","run":10},{"i":86,"v":499,"state":"blue","run":10},{"i":89,"v":573,"state":"blue","run":10},{"i":91,"v":597,"state":"blue","run":10},{"i":94,"v":680,"state":"blue","run":10},{"i":96,"v":646,"state":"blue","run":10},{"i":98,"v":659,"state":"blue","run":10},{"i":99,"v":705,"state":"blue","run":10},{"i":101,"v":677,"state":"blue","run":10},{"i":102,"v":679,"state":"blue","run":10},{"i":103,"v":693,"state":"blue","run":10},{"i":104,"v":651,"state":"blue","run":10},{"i":105,"v":651,"state":"blue","run":10},{"i":106,"v":608,"state":"blue","run":10},
{"i":106,"v":608,"state":"pink","run":11},{"i":107,"v":568,"state":"pink","run":11},{"i":108,"v":607,"state":"pink","run":11},{"i":109,"v":560,"state":"pink","run":11},{"i":113,"v":542,"state":"pink","run":11},{"i":114,"v":521,"state":"pink","run":11},{"i":118,"v":495,"state":"pink","run":11},{"i":122,"v":466,"state":"pink","run":11},{"i":124,"v":454,"state":"pink","run":11},
{"i":124,"v":454,"state":"blue","run":12},{"i":126,"v":472,"state":"blue","run":12},
{"i":126,"v":472,"state":"pink","run":13},{"i":128,"v":429,"state":"pink","run":13},{"i":129,"v":426,"state":"pink","run":13},{"i":130,"v":472,"state":"pink","run":13},
{"i":130,"v":472,"state":"blue","run":14},{"i":131,"v":444,"state":"blue","run":14},{"i":132,"v":432,"state":"blue","run":14},
{"i":132,"v":432,"state":"pink","run":15},{"i":135,"v":389,"state":"pink","run":15},{"i":138,"v":327,"state":"pink","run":15},{"i":141,"v":286,"state":"pink","run":15},{"i":142,"v":288,"state":"pink","run":15},
{"i":142,"v":288,"state":"blue","run":16},{"i":143,"v":323,"state":"blue","run":16},{"i":144,"v":284,"state":"blue","run":16},{"i":145,"v":307,"state":"blue","run":16},{"i":147,"v":300,"state":"blue","run":16},{"i":148,"v":375,"state":"blue","run":16},{"i":149,"v":375,"state":"blue","run":16},
{"i":149,"v":375,"state":"pink","run":17},{"i":150,"v":289,"state":"pink","run":17},{"i":151,"v":289,"state":"pink","run":17},{"i":155,"v":268,"state":"pink","run":17},{"i":157,"v":249,"state":"pink","run":17},{"i":159,"v":241,"state":"pink","run":17},{"i":160,"v":235,"state":"pink","run":17},{"i":161,"v":245,"state":"pink","run":17},
{"i":161,"v":245,"state":"blue","run":18},{"i":163,"v":294,"state":"blue","run":18},{"i":165,"v":250,"state":"blue","run":18},{"i":166,"v":272,"state":"blue","run":18},{"i":167,"v":253,"state":"blue","run":18},{"i":169,"v":246,"state":"blue","run":18},
{"i":169,"v":246,"state":"pink","run":19},{"i":170,"v":233,"state":"pink","run":19},{"i":172,"v":224,"state":"pink","run":19},{"i":176,"v":174,"state":"pink","run":19},{"i":180,"v":153,"state":"pink","run":19},{"i":183,"v":128,"state":"pink","run":19},{"i":184,"v":139,"state":"pink","run":19},{"i":185,"v":99,"state":"pink","run":19},{"i":189,"v":87,"state":"pink","run":19},{"i":190,"v":104,"state":"pink","run":19},
{"i":190,"v":104,"state":"blue","run":20},{"i":191,"v":84,"state":"blue","run":20},{"i":193,"v":84,"state":"blue","run":20},{"i":194,"v":100,"state":"blue","run":20},{"i":196,"v":100,"state":"blue","run":20},
{"i":196,"v":100,"state":"pink","run":21},{"i":197,"v":84,"state":"pink","run":21},
{"i":197,"v":84,"state":"blue","run":22},{"i":198,"v":112,"state":"blue","run":22},{"i":200,"v":94,"state":"blue","run":22},
{"i":200,"v":94,"state":"pink","run":23},{"i":204,"v":73,"state":"pink","run":23},{"i":210,"v":49,"state":"pink","run":23},{"i":214,"v":38,"state":"pink","run":23},{"i":215,"v":61,"state":"pink","run":23},{"i":216,"v":38,"state":"pink","run":23},
{"i":216,"v":38,"state":"blue","run":24},{"i":217,"v":35,"state":"blue","run":24},{"i":218,"v":69,"state":"blue","run":24},
{"i":218,"v":69,"state":"pink","run":25},{"i":219,"v":35,"state":"pink","run":25},
{"i":219,"v":35,"state":"blue","run":26},{"i":220,"v":112,"state":"blue","run":26},{"i":221,"v":49,"state":"blue","run":26},{"i":222,"v":70,"state":"blue","run":26},{"i":223,"v":57,"state":"blue","run":26},
{"i":223,"v":57,"state":"pink","run":27},{"i":224,"v":100,"state":"pink","run":27},{"i":225,"v":112,"state":"pink","run":27},{"i":226,"v":69,"state":"pink","run":27},{"i":227,"v":104,"state":"pink","run":27},{"i":228,"v":104,"state":"pink","run":27},
{"i":228,"v":104,"state":"red","run":28},{"i":229,"v":147,"state":"red","run":28},{"i":232,"v":86,"state":"red","run":28},{"i":233,"v":125,"state":"red","run":28},{"i":235,"v":85,"state":"red","run":28},{"i":236,"v":78,"state":"red","run":28},{"i":237,"v":104,"state":"red","run":28},{"i":238,"v":67,"state":"red","run":28},{"i":239,"v":67,"state":"red","run":28},{"i":241,"v":171,"state":"red","run":28},{"i":242,"v":319,"state":"red","run":28},{"i":243,"v":386,"state":"red","run":28},{"i":245,"v":366,"state":"red","run":28},{"i":248,"v":352,"state":"red","run":28},{"i":249,"v":307,"state":"red","run":28},{"i":250,"v":350,"state":"red","run":28},{"i":252,"v":315,"state":"red","run":28},{"i":253,"v":280,"state":"red","run":28},{"i":254,"v":307,"state":"red","run":28},{"i":256,"v":289,"state":"red","run":28},{"i":258,"v":315,"state":"red","run":28},{"i":259,"v":378,"state":"red","run":28},{"i":260,"v":339,"state":"red","run":28},{"i":262,"v":335,"state":"red","run":28},{"i":263,"v":360,"state":"red","run":28},{"i":265,"v":358,"state":"red","run":28},{"i":267,"v":366,"state":"red","run":28},{"i":268,"v":345,"state":"red","run":28},{"i":270,"v":368,"state":"red","run":28},{"i":271,"v":417,"state":"red","run":28},{"i":272,"v":417,"state":"red","run":28},{"i":273,"v":370,"state":"red","run":28},
{"i":273,"v":370,"state":"pink","run":29},{"i":274,"v":311,"state":"pink","run":29},{"i":276,"v":288,"state":"pink","run":29},{"i":280,"v":253,"state":"pink","run":29},{"i":284,"v":216,"state":"pink","run":29},{"i":288,"v":186,"state":"pink","run":29},{"i":293,"v":156,"state":"pink","run":29},{"i":295,"v":159,"state":"pink","run":29},
{"i":295,"v":159,"state":"red","run":30},{"i":296,"v":178,"state":"red","run":30},{"i":297,"v":167,"state":"red","run":30},{"i":298,"v":211,"state":"red","run":30},{"i":299,"v":196,"state":"red","run":30},{"i":301,"v":192,"state":"red","run":30},{"i":302,"v":167,"state":"red","run":30},
{"i":302,"v":167,"state":"pink","run":31},{"i":304,"v":153,"state":"pink","run":31},{"i":309,"v":146,"state":"pink","run":31},{"i":313,"v":131,"state":"pink","run":31},{"i":315,"v":112,"state":"pink","run":31},{"i":317,"v":106,"state":"pink","run":31},
{"i":317,"v":106,"state":"red","run":32},{"i":318,"v":161,"state":"red","run":32},{"i":320,"v":153,"state":"red","run":32},{"i":321,"v":178,"state":"red","run":32},{"i":322,"v":181,"state":"red","run":32},{"i":323,"v":202,"state":"red","run":32},{"i":324,"v":163,"state":"red","run":32},{"i":325,"v":221,"state":"red","run":32},
{"i":325,"v":221,"state":"pink","run":33},{"i":326,"v":135,"state":"pink","run":33},{"i":327,"v":128,"state":"pink","run":33},{"i":329,"v":120,"state":"pink","run":33},{"i":330,"v":159,"state":"pink","run":33},
{"i":330,"v":159,"state":"red","run":34},{"i":331,"v":163,"state":"red","run":34},
{"i":331,"v":163,"state":"pink","run":35},{"i":333,"v":113,"state":"pink","run":35},{"i":336,"v":108,"state":"pink","run":35},{"i":340,"v":88,"state":"pink","run":35},{"i":342,"v":85,"state":"pink","run":35},{"i":349,"v":49,"state":"pink","run":35},{"i":350,"v":49,"state":"pink","run":35},{"i":352,"v":114,"state":"pink","run":35},{"i":356,"v":44,"state":"pink","run":35},
{"i":356,"v":44,"state":"blue","run":36},{"i":358,"v":92,"state":"blue","run":36},{"i":359,"v":73,"state":"blue","run":36},{"i":360,"v":78,"state":"blue","run":36},{"i":361,"v":30,"state":"blue","run":36},
{"i":361,"v":30,"state":"pink","run":37},{"i":362,"v":23,"state":"pink","run":37},{"i":363,"v":23,"state":"pink","run":37},{"i":364,"v":36,"state":"pink","run":37},
{"i":364,"v":36,"state":"blue","run":38},{"i":365,"v":39,"state":"blue","run":38},{"i":367,"v":65,"state":"blue","run":38},{"i":368,"v":50,"state":"blue","run":38}
]},"mark":{"type":"line","strokeWidth":2.4},"encoding":{"x":{"field":"i","type":"quantitative"},"y":{"field":"v","type":"quantitative"},"detail":{"field":"run"},"color":{"field":"state","type":"nominal","scale":{"domain":["pink","blue","red"],"range":["#FFC0CB","#00BFFF","#FF0000"]}}}},
{"data":{"values":[{"i":0,"v":468},{"i":5,"v":433},{"i":10,"v":393},{"i":14,"v":368},{"i":18,"v":378},{"i":21,"v":413},{"i":27,"v":511},{"i":30,"v":522},{"i":33,"v":565},{"i":36,"v":558},{"i":39,"v":540},{"i":43,"v":522},{"i":49,"v":532},{"i":52,"v":534},{"i":57,"v":589},{"i":61,"v":591},{"i":66,"v":612},{"i":70,"v":607},{"i":75,"v":569},{"i":79,"v":542},{"i":81,"v":522},{"i":86,"v":508},{"i":90,"v":522},{"i":98,"v":601},{"i":105,"v":669},{"i":110,"v":644},{"i":119,"v":538},{"i":125,"v":495},{"i":134,"v":448},{"i":141,"v":374},{"i":149,"v":319},{"i":154,"v":307},{"i":159,"v":286},{"i":164,"v":257},{"i":174,"v":245},{"i":179,"v":213},{"i":184,"v":174},{"i":189,"v":131},{"i":194,"v":104},{"i":205,"v":88},{"i":217,"v":49},{"i":224,"v":61},{"i":231,"v":92},{"i":237,"v":100},{"i":241,"v":108},{"i":248,"v":233},{"i":254,"v":331},{"i":256,"v":335},{"i":264,"v":323},{"i":272,"v":362},{"i":278,"v":339},{"i":284,"v":297},{"i":287,"v":249},{"i":295,"v":186},{"i":302,"v":174},{"i":311,"v":165},{"i":316,"v":138},{"i":319,"v":131},{"i":325,"v":151},{"i":332,"v":159},{"i":339,"v":122},{"i":343,"v":110},{"i":351,"v":77},{"i":355,"v":78},{"i":361,"v":69},{"i":368,"v":57}]},"mark":{"type":"line","color":"#00FF00","strokeWidth":1},"encoding":{"x":{"field":"i","type":"quantitative"},"y":{"field":"v","type":"quantitative"}}},
{"data":{"values":[{"i":0,"v":460},{"i":4,"v":409},{"i":9,"v":380},{"i":14,"v":361},{"i":16,"v":378},{"i":18,"v":378},{"i":21,"v":421},{"i":24,"v":491},{"i":27,"v":558},{"i":30,"v":560},{"i":33,"v":568},{"i":37,"v":542},{"i":40,"v":522},{"i":43,"v":495},{"i":45,"v":515},{"i":49,"v":534},{"i":54,"v":579},{"i":57,"v":591},{"i":60,"v":616},{"i":62,"v":612},{"i":65,"v":601},{"i":69,"v":608},{"i":73,"v":573},{"i":76,"v":526},{"i":79,"v":505},{"i":83,"v":504},{"i":86,"v":508},{"i":90,"v":534},{"i":95,"v":624},{"i":100,"v":667},{"i":104,"v":675},{"i":106,"v":667},{"i":111,"v":601},{"i":116,"v":542},{"i":124,"v":479},{"i":130,"v":452},{"i":137,"v":405},{"i":141,"v":343},{"i":146,"v":303},{"i":149,"v":319},{"i":154,"v":307},{"i":159,"v":264},{"i":161,"v":253},{"i":170,"v":258},{"i":175,"v":233},{"i":184,"v":159},{"i":190,"v":108},{"i":194,"v":94},{"i":202,"v":92},{"i":210,"v":65},{"i":217,"v":45},{"i":223,"v":57},{"i":230,"v":96},{"i":235,"v":108},{"i":240,"v":96},{"i":243,"v":155},{"i":248,"v":311},{"i":251,"v":353},{"i":256,"v":319},{"i":258,"v":311},{"i":262,"v":321},{"i":267,"v":346},{"i":272,"v":374},{"i":278,"v":335},{"i":282,"v":276},{"i":287,"v":233},{"i":295,"v":174},{"i":301,"v":180},{"i":304,"v":180},{"i":311,"v":151},{"i":316,"v":131},{"i":318,"v":128},{"i":322,"v":147},{"i":326,"v":171},{"i":329,"v":161},{"i":334,"v":135},{"i":339,"v":104},{"i":343,"v":96},{"i":350,"v":70},{"i":352,"v":77},{"i":355,"v":77},{"i":361,"v":65},{"i":364,"v":49},{"i":368,"v":47}]},"mark":{"type":"line","color":"#FFFF00","strokeWidth":1},"encoding":{"x":{"field":"i","type":"quantitative"},"y":{"field":"v","type":"quantitative"}}},
{"data":{"values":[{"i":1,"v":713,"t":"TORETORE_001 50.3778 43.8576 51.8883 50.3778"}]},"mark":{"type":"text","font":"Liberation Sans","fontSize":14,"color":"#ffffff","align":"left","baseline":"middle"},"encoding":{"x":{"field":"i","type":"quantitative"},"y":{"field":"v","type":"quantitative"},"text":{"field":"t"}}},
{"data":{"values":[{"i":359.4,"v":554,"t":"とれとれが底で"}]},"mark":{"type":"text","font":"Noto Sans CJK JP","fontWeight":"bold","fontSize":34,"color":"#00FFFF","align":"left","baseline":"middle"},"encoding":{"x":{"field":"i","type":"quantitative"},"y":{"field":"v","type":"quantitative"},"text":{"field":"t"}}},
{"data":{"values":[{"i":359.4,"v":432,"t":"青色出現"}]},"mark":{"type":"text","font":"Noto Sans CJK JP","fontWeight":"bold","fontSize":39,"color":"#00FFFF","align":"left","baseline":"middle"},"encoding":{"x":{"field":"i","type":"quantitative"},"y":{"field":"v","type":"quantitative"},"text":{"field":"t"}}},
{"data":{"values":[{"i":370.6,"v":357},{"i":358.6,"v":170}]},"mark":{"type":"line","color":"#00FFFF","strokeWidth":4},"encoding":{"x":{"field":"i","type":"quantitative"},"y":{"field":"v","type":"quantitative"}}},
{"data":{"values":[{"i":358.6,"v":170}]},"mark":{"type":"point","shape":"M0,-1 L0.7,1 L-0.7,1 Z","filled":true,"color":"#00FFFF","opacity":1,"size":600,"angle":211},"encoding":{"x":{"field":"i","type":"quantitative"},"y":{"field":"v","type":"quantitative"}}}
]},
{"width":1912,"height":9,"view":{"fill":"#e9e9e9","stroke":null},"data":{"values":[{"a":1}]},"mark":{"type":"rule","opacity":0},"encoding":{}}
]}
